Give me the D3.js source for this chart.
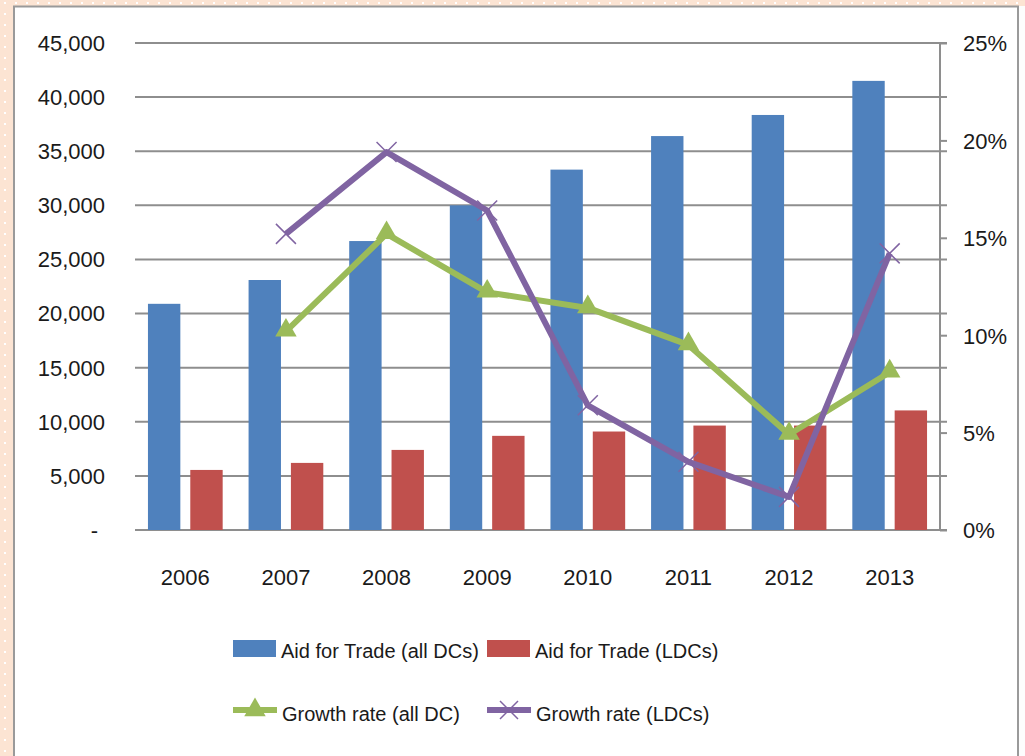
<!DOCTYPE html>
<html><head><meta charset="utf-8">
<script src="https://cdn.jsdelivr.net/npm/d3@7"></script>
<style>html,body{margin:0;padding:0;background:#fff;}svg{display:block;}</style>
</head><body>
<svg id="chart" width="1025" height="756"></svg>
<script>
const years = ["2006","2007","2008","2009","2010","2011","2012","2013"];
const aidAll = [20900, 23100, 26700, 30000, 33300, 36400, 38350, 41500];
const aidLDC = [5550, 6200, 7400, 8700, 9100, 9650, 9650, 11050];
const growthAll = [null, 10.2, 15.2, 12.2, 11.4, 9.5, 4.9, 8.1];
const growthLDC = [null, 15.2, 19.4, 16.4, 6.4, 3.5, 1.7, 14.2];
const leftTicks = [0, 5000, 10000, 15000, 20000, 25000, 30000, 35000, 40000, 45000];
const rightTicks = [0, 5, 10, 15, 20, 25];
const barSeries = ["Aid for Trade (all DCs)", "Aid for Trade (LDCs)"];
const lineSeries = ["Growth rate (all DC)", "Growth rate (LDCs)"];
const colors = {blue:"#4F81BD", red:"#C0504D", green:"#9BBB59", purple:"#8064A2"};

const svg = d3.select("#chart");
const FONT = "'Liberation Sans', Arial, sans-serif";

// background pattern
const defs = svg.append("defs");
const pat = defs.append("pattern").attr("id","dots").attr("width",11).attr("height",11).attr("patternUnits","userSpaceOnUse");
pat.append("rect").attr("width",11).attr("height",11).attr("fill","#FCE4D3");
pat.append("rect").attr("x",4).attr("y",2).attr("width",2).attr("height",2).attr("fill","#fff");
svg.append("rect").attr("width",1025).attr("height",756).attr("fill","url(#dots)");
svg.append("rect").attr("x",1019).attr("y",6).attr("width",6).attr("height",750).attr("fill","#fdfdfd");
svg.append("rect").attr("x",14).attr("y",6.5).attr("width",1004).attr("height",760)
  .attr("fill","#fff").attr("stroke","#9a9a9a").attr("stroke-width",2);

const L = 135, R = 940, T = 43, B = 530;
const x0 = d3.scaleBand().domain(years).range([L, R]).padding(0);
const x1 = d3.scaleBand().domain(barSeries).range([0, x0.bandwidth()]).paddingInner(0.235).paddingOuter(0.306);
const yL = d3.scaleLinear().domain([0, 45000]).range([B, T]);
const yR = d3.scaleLinear().domain([0, 25]).range([B, T]);

// gridlines
const grid = svg.append("g");
grid.selectAll("line").data(leftTicks).join("line")
  .attr("x1", L).attr("x2", R + 7).attr("y1", d => yL(d)).attr("y2", d => yL(d))
  .attr("stroke", "#8e8e8e").attr("stroke-width", 2);

// left axis labels
const fmt = d => d === 0 ? "-" : d3.format(",")(d);
svg.append("g").selectAll("text").data(leftTicks).join("text")
  .attr("x", d => d === 0 ? 98 : 105).attr("y", d => yL(d)).attr("dy", "0.36em")
  .attr("text-anchor", "end").attr("font-family", FONT).attr("font-size", 22).attr("fill", "#1a1a1a")
  .text(fmt);

// right axis
const rAxis = d3.axisRight(yR).tickValues(rightTicks).tickSize(7).tickPadding(16).tickFormat(d => d + "%");
const rg = svg.append("g").attr("transform", `translate(${R},0)`).call(rAxis);
rg.select(".domain").attr("stroke", "#8e8e8e").attr("stroke-width", 2).attr("d", `M0,${T}V${B}`);
rg.selectAll(".tick line").attr("stroke", "#8e8e8e").attr("stroke-width", 2);
rg.selectAll(".tick text").attr("font-family", FONT).attr("font-size", 22).attr("fill", "#1a1a1a").attr("dy","0.36em");

// bars
const bars = svg.append("g");
years.forEach((yr, i) => {
  const vals = [aidAll[i], aidLDC[i]];
  bars.selectAll(null).data(vals).join("rect")
    .attr("x", (d, j) => x0(yr) + x1(barSeries[j]))
    .attr("width", x1.bandwidth())
    .attr("y", d => yL(d)).attr("height", d => B - yL(d))
    .attr("fill", (d, j) => j === 0 ? colors.blue : colors.red);
});

// x labels
svg.append("g").selectAll("text").data(years).join("text")
  .attr("x", d => x0(d) + x0.bandwidth() / 2).attr("y", 585)
  .attr("text-anchor", "middle").attr("font-family", FONT).attr("font-size", 22).attr("fill", "#1a1a1a")
  .text(d => d);

// lines
const cx = (d, i) => x0(years[i]) + x0.bandwidth() / 2;
const line = d3.line().defined(d => d != null).x(cx).y(d => yR(d));
svg.append("path").datum(growthAll).attr("d", line).attr("fill", "none")
  .attr("stroke", colors.green).attr("stroke-width", 6).attr("stroke-linejoin", "round");
svg.append("path").datum(growthLDC).attr("d", line).attr("fill", "none")
  .attr("stroke", colors.purple).attr("stroke-width", 6).attr("stroke-linejoin", "round");

const tri = d3.symbol().type(d3.symbolTriangle).size(200);
svg.append("g").selectAll("path").data(growthAll.map((v, i) => [v, i]).filter(d => d[0] != null)).join("path")
  .attr("d", tri).attr("transform", d => `translate(${cx(d[0], d[1])},${yR(d[0]) - 1})`)
  .attr("fill", colors.green);

const xs = svg.append("g");
growthLDC.forEach((v, i) => {
  if (v == null) return;
  const px = cx(v, i), py = yR(v), s = 10;
  xs.append("path").attr("d", `M${px - s},${py - s}L${px + s},${py + s}M${px - s},${py + s}L${px + s},${py - s}`)
    .attr("stroke", colors.purple).attr("stroke-width", 1.5).attr("fill", "none");
});

// legend
const lg = svg.append("g").attr("font-family", FONT).attr("font-size", 20).attr("fill", "#1a1a1a");
const leg1 = [{x:233, c:colors.blue, t:barSeries[0]}, {x:487, c:colors.red, t:barSeries[1]}];
leg1.forEach(d => {
  lg.append("rect").attr("x", d.x).attr("y", 640).attr("width", 43).attr("height", 17).attr("fill", d.c);
  lg.append("text").attr("x", d.x + 48).attr("y", 658).text(d.t);
});
const leg2 = [{x:233, c:colors.green, t:lineSeries[0], m:"tri"}, {x:487, c:colors.purple, t:lineSeries[1], m:"x"}];
leg2.forEach(d => {
  lg.append("line").attr("x1", d.x).attr("x2", d.x + 44).attr("y1", 710).attr("y2", 710)
    .attr("stroke", d.c).attr("stroke-width", 6);
  const mx = d.x + 22;
  if (d.m === "tri") {
    lg.append("path").attr("d", tri).attr("transform", `translate(${mx},710)`).attr("fill", d.c);
  } else {
    const s = 9;
    lg.append("path").attr("d", `M${mx - s},${710 - s}L${mx + s},${710 + s}M${mx - s},${710 + s}L${mx + s},${710 - s}`)
      .attr("stroke", d.c).attr("stroke-width", 1.5);
  }
  lg.append("text").attr("x", d.x + 49).attr("y", 721).text(d.t);
});
</script>
</body></html>
